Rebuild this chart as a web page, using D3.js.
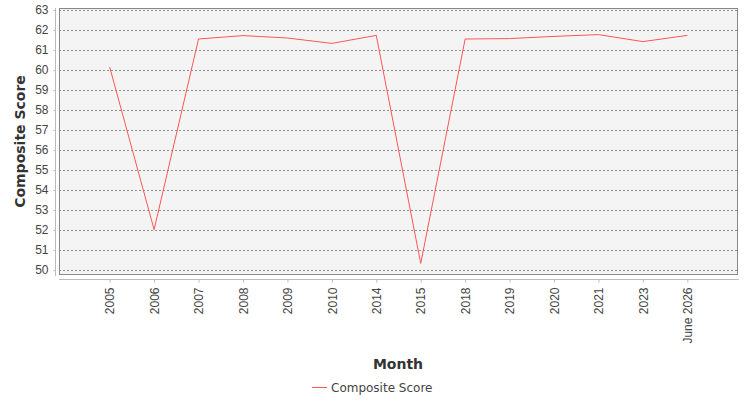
<!DOCTYPE html>
<html>
<head>
<meta charset="utf-8">
<script src="https://cdn.jsdelivr.net/npm/d3@7/dist/d3.min.js"></script>
<style>
body{margin:0;background:#fff;}
svg{display:block;font-family:"DejaVu Sans",sans-serif;}
</style>
</head>
<body>
<svg id="chart" width="750" height="400"></svg>
<script>
const categories = ["2005","2006","2007","2008","2009","2010","2014","2015","2018","2019","2020","2021","2023","June 2026"];
const scores = [60.15,52.02,61.55,61.72,61.6,61.33,61.73,50.33,61.55,61.57,61.68,61.77,61.42,61.73];
const yTicks = [50,51,52,53,54,55,56,57,58,59,60,61,62,63];
const seriesName = "Composite Score";

const svg = d3.select("#chart");
const L = 59, R = 738, T = 8, B = 275;

const x = d3.scalePoint().domain(categories).range([L, R]).padding(1.14);
const y = d3.scaleLinear().domain([49.75, 63.1]).range([B, T]);

// plot background
svg.append("rect").attr("x", L).attr("y", T).attr("width", R - L).attr("height", B - T)
  .attr("fill", "#f4f4f4");

// grid
svg.append("g").selectAll("line").data(yTicks).join("line")
  .attr("x1", L).attr("x2", R)
  .attr("y1", d => Math.round(y(d)) + 0.5).attr("y2", d => Math.round(y(d)) + 0.5)
  .attr("stroke", "#777").attr("stroke-width", 0.8).attr("stroke-dasharray", "2,2");

// border
svg.append("rect").attr("x", L + 0.5).attr("y", T + 0.5).attr("width", R - L - 1).attr("height", B - T - 1)
  .attr("fill", "none").attr("stroke", "#888").attr("stroke-width", 1);

// y axis
const yAxis = d3.axisLeft(y).tickValues(yTicks).tickSize(2).tickPadding(5).tickFormat(d3.format("d"));
const gy = svg.append("g").attr("transform", "translate(55.5,0)").call(yAxis);
gy.select(".domain").attr("stroke", "#bbb").attr("d", `M0,${T}V${B + 1}`);
gy.selectAll(".tick line").attr("stroke", "#bbb");
gy.selectAll(".tick text").attr("fill", "#444").style("font-size", "12px");

// x axis
const xAxis = d3.axisBottom(x).tickSize(3).tickPadding(4);
const gx = svg.append("g").attr("transform", "translate(0,279.5)").call(xAxis);
gx.select(".domain").attr("stroke", "#bbb").attr("d", `M${L},0H${R + 1}`);
gx.selectAll(".tick line").attr("stroke", "#bbb");
gx.selectAll(".tick text").attr("fill", "#444").style("font-size", "12px")
  .attr("transform", "rotate(-90)")
  .attr("text-anchor", "end")
  .attr("x", -8).attr("y", 0).attr("dy", "0.35em");

// line
const line = d3.line().x((d, i) => x(categories[i])).y(d => y(d));
svg.append("path").datum(scores).attr("d", line)
  .attr("fill", "none").attr("stroke", "#ff5555").attr("stroke-width", 1);

// axis titles
svg.append("text").attr("transform", `translate(25,${(T + B) / 2 + 0}) rotate(-90)`)
  .attr("text-anchor", "middle").attr("fill", "#333")
  .style("font-size", "14px").style("font-weight", "bold").text("Composite Score");
svg.append("text").attr("x", 398).attr("y", 369).attr("text-anchor", "middle")
  .attr("fill", "#333").style("font-size", "14px").style("font-weight", "bold").text("Month");

// legend
svg.append("line").attr("x1", 312).attr("x2", 327).attr("y1", 387.5).attr("y2", 387.5)
  .attr("stroke", "#ff5555").attr("stroke-width", 1);
svg.append("text").attr("x", 331).attr("y", 392).attr("fill", "#444")
  .style("font-size", "12px").text(seriesName);
</script>
</body>
</html>
